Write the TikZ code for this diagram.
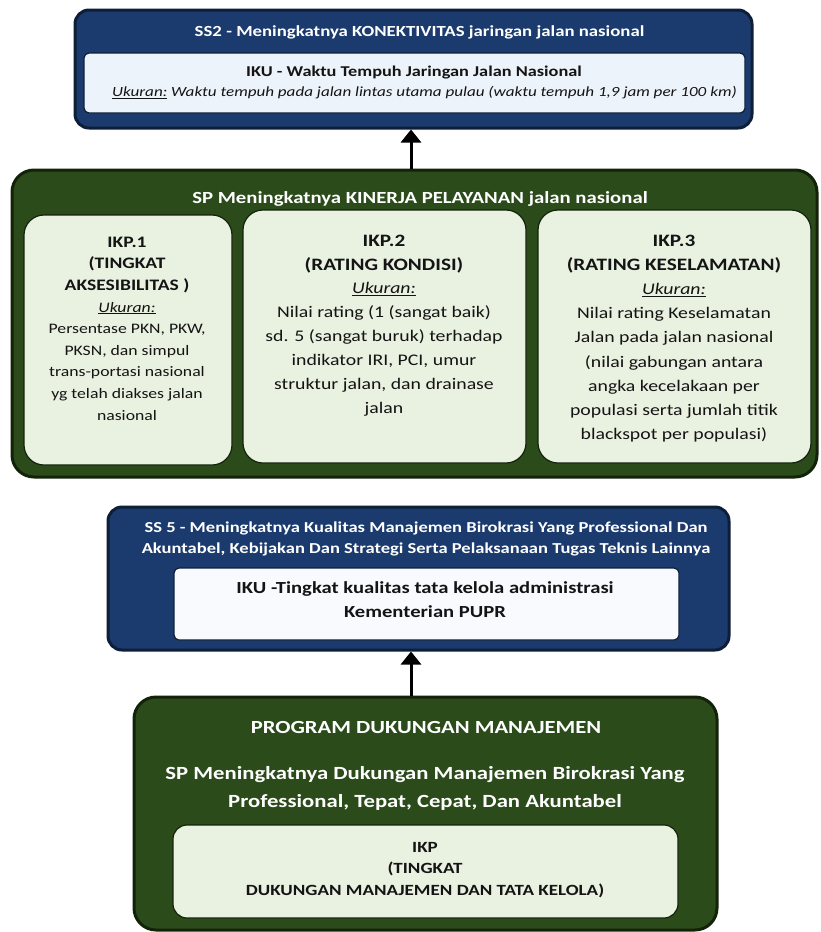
\documentclass[tikz,border=0pt]{standalone}
\usepackage{fontspec}
\setmainfont{Carlito}[FakeStretch=1.22]
\usetikzlibrary{arrows.meta}

\definecolor{navy}{HTML}{1B3B6E}
\definecolor{navyedge}{HTML}{0E1E38}
\definecolor{forest}{HTML}{2B4B1B}
\definecolor{forestedge}{HTML}{13230A}
\definecolor{paleblue}{HTML}{EDF3FA}
\definecolor{palegreen}{HTML}{E9F1E1}
\definecolor{ink}{HTML}{141414}

\tikzset{
  x=1pt, y=-1pt,
  panel/.style={line width=3pt, rounded corners=#1, inner sep=0pt},
  bluepanel/.style={panel=14pt, draw=navyedge, fill=navy},
  greenpanel/.style={panel=22pt, draw=forestedge, fill=forest},
  blueinner/.style={draw=navyedge, line width=1.2pt, fill=paleblue, rounded corners=5pt, inner sep=0pt},
  greeninner/.style={draw=forestedge, line width=1.2pt, fill=palegreen, rounded corners=20pt, inner sep=0pt},
  titletext/.style={text=white, font=\bfseries\fontsize{#1}{#1}\selectfont, align=center, inner sep=0pt},
  bodytext/.style={text=ink, align=center, inner sep=0pt},
  uparrow/.style={line width=3pt, -{Triangle[width=20pt,length=13pt]}, black},
}
\newcommand{\ukr}{\underline{\textit{Ukuran:}}}

\begin{document}
\begin{tikzpicture}
\useasboundingbox[fill=white] (0,0) rectangle (820,932);

% ---------- Box 1 (SS2) ----------
\node[bluepanel, minimum width=677pt, minimum height=118pt] (b1) at (413.5,69) {};
\node[titletext=15.4] (t1) at (419.5,32) {SS2 - Meningkatnya KONEKTIVITAS jaringan jalan nasional};
\node[blueinner, minimum width=661pt, minimum height=60pt] (i1) at (414.5,83) {};
\node[bodytext, font=\bfseries\fontsize{15}{20}\selectfont] (x1a) at (414,73)
  {IKU - Waktu Tempuh Jaringan Jalan Nasional};
\node[bodytext, font=\fontsize{14}{20}\selectfont] (x1b) at (424.5,93)
  {\ukr\textit{ Waktu tempuh pada jalan lintas utama pulau (waktu tempuh 1,9 jam per 100 km)}};

% ---------- Box 2 (SP Kinerja) ----------
\node[greenpanel, minimum width=805pt, minimum height=307pt] (b2) at (414.5,323.5) {};
\node[titletext=17] (t2) at (420,199) {SP Meningkatnya KINERJA PELAYANAN jalan nasional};

\node[greeninner, minimum width=208pt, minimum height=250pt] (k1) at (128,340) {};
\node[greeninner, minimum width=283pt, minimum height=253pt] (k2) at (384.5,336.5) {};
\node[greeninner, minimum width=273pt, minimum height=253pt] (k3) at (674.5,336.5) {};

\node[bodytext, font=\fontsize{14.5}{21.6}\selectfont] (kx1) at (127,328.5)
  {{\fontsize{16}{21.6}\selectfont\textbf{IKP.1}}\\
   {\fontsize{16}{21.6}\selectfont\textbf{(TINGKAT}}\\
   {\fontsize{16}{21.6}\selectfont\textbf{AKSESIBILITAS )}}\\
   \ukr\\
   Persentase PKN, PKW,\\
   PKSN, dan simpul\\
   trans-portasi nasional\\
   yg telah diakses jalan\\
   nasional};
\node[bodytext, font=\fontsize{16.2}{23.9}\selectfont] (kx2) at (384,325.5)
  {{\fontsize{17.4}{23.9}\selectfont\textbf{IKP.2}}\\
   {\fontsize{17.4}{23.9}\selectfont\textbf{(RATING KONDISI)}}\\
   \ukr\\
   Nilai rating (1 (sangat baik)\\
   sd. 5 (sangat buruk) terhadap\\
   indikator IRI, PCI, umur\\
   struktur jalan, dan drainase\\
   jalan};
\node[bodytext, font=\fontsize{16.2}{24.1}\selectfont] (kx3) at (674,338.5)
  {{\fontsize{17.4}{24.1}\selectfont\textbf{IKP.3}}\\
   {\fontsize{17.4}{24.1}\selectfont\textbf{(RATING KESELAMATAN)}}\\
   \ukr\\
   Nilai rating Keselamatan\\
   Jalan pada jalan nasional\\
   (nilai gabungan antara\\
   angka kecelakaan per\\
   populasi serta jumlah titik\\
   blackspot per populasi)};

% ---------- Box 3 (SS 5) ----------
\node[bluepanel, minimum width=621pt, minimum height=143pt] (b3) at (418.5,578.5) {};
\node[titletext=15.2, font=\bfseries\fontsize{15.2}{21}\selectfont] (t3) at (426,539)
  {SS 5 - Meningkatnya Kualitas Manajemen Birokrasi Yang Professional Dan\\
   Akuntabel, Kebijakan Dan Strategi Serta Pelaksanaan Tugas Teknis Lainnya};
\node[blueinner, fill=white!60!paleblue, minimum width=505pt, minimum height=72pt] (i3) at (426.5,604) {};
\node[bodytext, font=\bfseries\fontsize{16.9}{24}\selectfont] (x3) at (425,600)
  {IKU -Tingkat kualitas tata kelola administrasi\\ Kementerian PUPR};

% ---------- Box 4 (Program Dukungan Manajemen) ----------
\node[greenpanel, minimum width=583pt, minimum height=233pt] (b4) at (425.5,813.5) {};
\node[titletext=18.5] (t4) at (426,727) {PROGRAM DUKUNGAN MANAJEMEN};
\node[titletext=18.6, font=\bfseries\fontsize{18.6}{28}\selectfont] (s4) at (425,788)
  {SP Meningkatnya Dukungan Manajemen Birokrasi Yang\\
   Professional, Tepat, Cepat, Dan Akuntabel};
\node[greeninner, rounded corners=14pt, minimum width=505pt, minimum height=93pt] (i4) at (425.5,871.5) {};
\node[bodytext, font=\bfseries\fontsize{15.6}{21.5}\selectfont] (x4) at (425,870)
  {IKP\\ (TINGKAT\\ DUKUNGAN MANAJEMEN DAN TATA KELOLA)};

% ---------- Connectors ----------
\coordinate (ax) at (411,0);
\draw[uparrow] (ax |- b2.north) -- (ax |- b1.south);
\draw[uparrow] (ax |- b4.north) -- (ax |- b3.south);

\end{tikzpicture}
\end{document}
